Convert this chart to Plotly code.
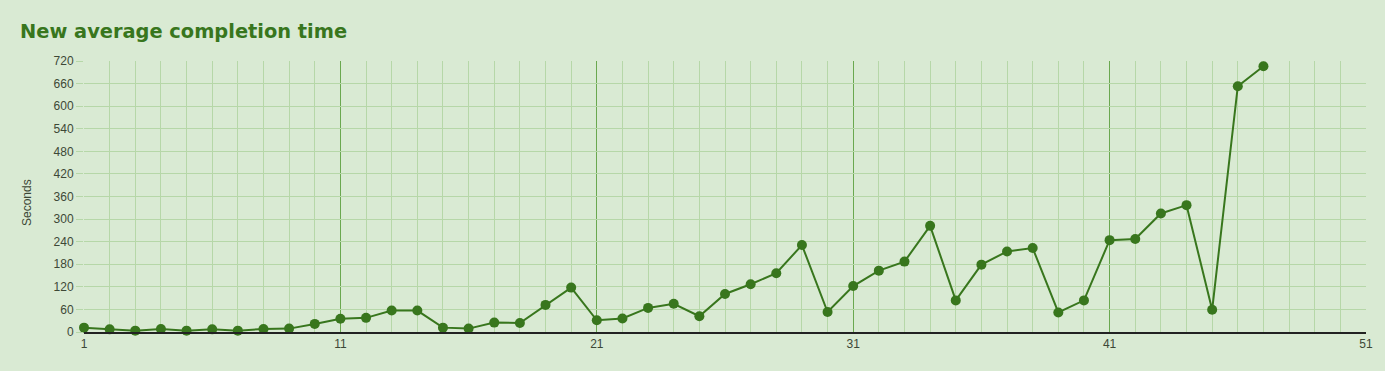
import plotly.graph_objects as go

runs = list(range(1, 48))
seconds = [11.6, 7, 3.6, 8, 3.6, 7, 3.6, 8, 9, 21.5,
           35, 37.6, 57, 57, 11.6, 9, 25, 24, 72, 118,
           31, 36, 64, 75, 42, 101, 127, 156, 231, 53,
           122, 163, 187, 282, 84, 179, 214, 223, 52, 84,
           244, 247, 315, 337, 59, 653, 706]
x_ticks = [1, 11, 21, 31, 41, 51]
y_ticks = list(range(0, 721, 60))

BG = "#d9ead3"
DARK = "#38761d"
TXT = "#3d4836"

fig = go.Figure()
fig.add_trace(go.Scatter(
    x=runs, y=seconds, mode="lines+markers",
    line=dict(color=DARK, width=2),
    marker=dict(color=DARK, size=10),
    cliponaxis=False, showlegend=False,
))

fig.update_layout(
    width=1385, height=371,
    paper_bgcolor=BG, plot_bgcolor=BG,
    margin=dict(l=84, r=19, t=61, b=39),
    title=dict(text="<b>New average completion time</b>", x=20 / 1385, xanchor="left",
               y=1 - 31 / 371, yanchor="middle",
               font=dict(family="DejaVu Sans", size=19.4, color=DARK)),
    font=dict(family="Liberation Sans, Arial", size=12, color=TXT),
    annotations=[dict(text="Seconds", xref="paper", yref="paper",
                      x=-57 / 1282, y=(332 - 203) / 271, xanchor="center", yanchor="middle",
                      textangle=-90, showarrow=False,
                      font=dict(size=12, color=TXT))],
)
fig.update_xaxes(
    range=[1, 51], tickvals=x_ticks, ticktext=[str(v) for v in x_ticks],
    showgrid=True, gridcolor="#6aa84f", gridwidth=1.2,
    minor=dict(dtick=1, tick0=1, showgrid=True, gridcolor="#b6d7a8", gridwidth=1),
    zeroline=False, showline=True, linecolor="#222222", linewidth=1.5,
    ticks="", tickfont=dict(size=12, color=TXT),
)
fig.update_yaxes(
    range=[0, 720], tickvals=y_ticks, ticktext=[str(v) for v in y_ticks],
    showgrid=True, gridcolor="#b6d7a8", gridwidth=1,
    zeroline=False, showline=False,
    ticks="outside", ticklen=7, tickcolor="#b6d7a8",
    tickfont=dict(size=12, color=TXT),
)
fig.write_html("out.html")
